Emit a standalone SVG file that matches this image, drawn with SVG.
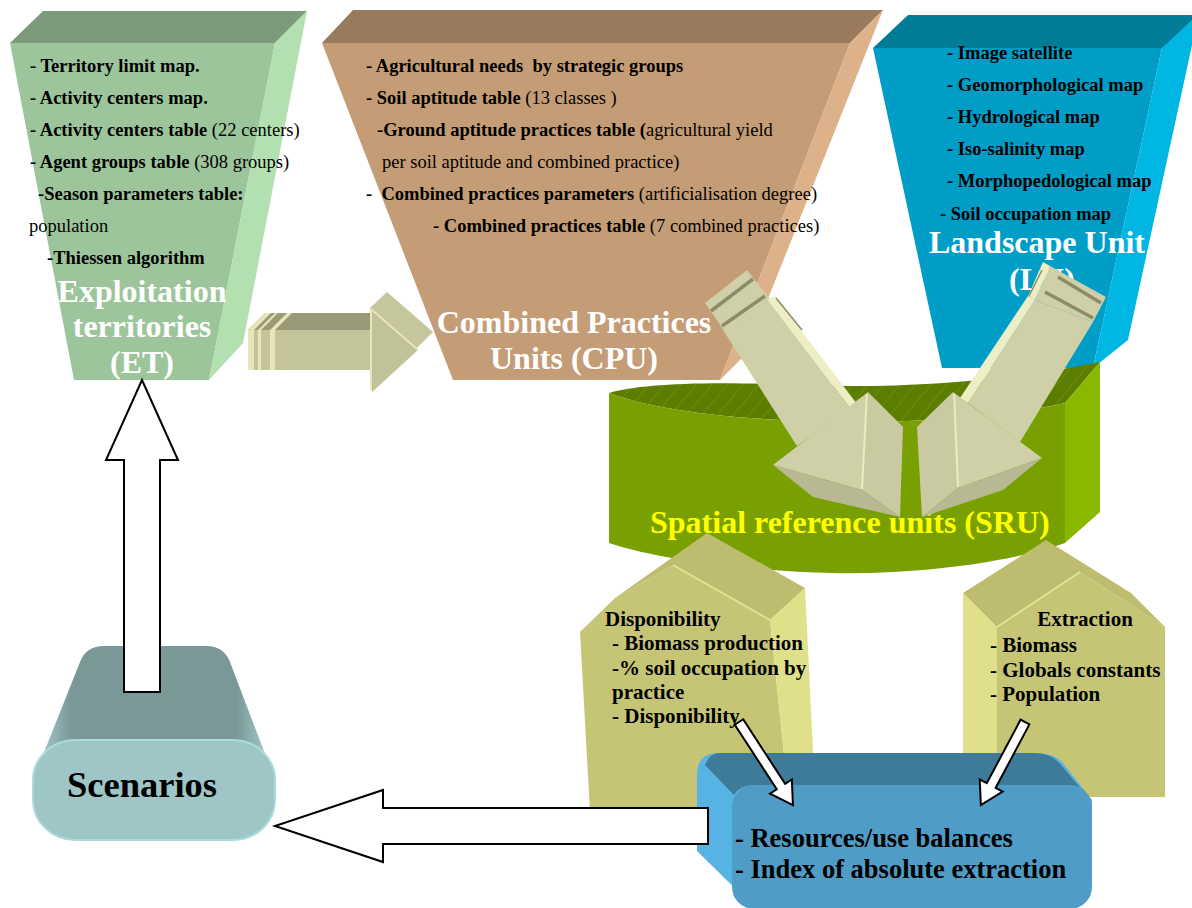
<svg xmlns="http://www.w3.org/2000/svg" width="1192" height="908" viewBox="0 0 1192 908">
<defs>
<style>
.t{font-family:'Liberation Serif','Times New Roman',serif;font-weight:bold;font-size:18.5px;fill:#000}
.n{font-weight:normal}
.ttl{font-size:32px;fill:#fff;text-anchor:middle}
.b21{font-size:21px}
.wa{fill:#fff;stroke:#000;stroke-width:2;stroke-linejoin:miter}
.bk{fill:#d0d0a8}
.bkhi{fill:#eeeec4}
.bkside{fill:#c9c9a2}
.bklow{fill:#b8b892}
.bkline{stroke:#8c8c6c;stroke-width:3.5;fill:none}
</style>
<pattern id="hatch" width="12" height="12" patternUnits="userSpaceOnUse" patternTransform="rotate(40)">
<rect width="12" height="12" fill="#5c7e00"/>
<line x1="0" y1="0" x2="0" y2="12" stroke="#a8c060" stroke-width="0.7" stroke-opacity="0.55"/>
</pattern>
<linearGradient id="scnBack" x1="0" y1="0" x2="1" y2="0">
<stop offset="0" stop-color="#a9d5d5"/>
<stop offset="0.16" stop-color="#7a9898"/>
<stop offset="0.84" stop-color="#7a9898"/>
<stop offset="1" stop-color="#a9d5d5"/>
</linearGradient>
</defs>
<rect width="1192" height="908" fill="#fff"/>

<!-- Exploitation territories funnel -->
<g id="et">
<polygon points="10,43 43,11 307,11 275,43" fill="#7b9b7b"/>
<polygon points="10,43 275,43 209,380 74,380" fill="#9dc59b"/>
<polygon points="275,43 307,11 243,343 209,380" fill="#b2e0b0"/>
<text class="t" x="30" y="72">- Territory limit map.</text>
<text class="t" x="30" y="104">- Activity centers map.</text>
<text class="t" x="30" y="136">- Activity centers table <tspan class="n">(22 centers)</tspan></text>
<text class="t" x="30" y="168">- Agent groups table <tspan class="n">(308 groups)</tspan></text>
<text class="t" x="38" y="200">-Season parameters table:</text>
<text class="t n" x="29" y="232">population</text>
<text class="t" x="47" y="264">-Thiessen algorithm</text>
<text class="t ttl" x="142" y="302">Exploitation</text>
<text class="t ttl" x="142" y="337">territories</text>
<text class="t ttl" x="142" y="373">(ET)</text>
</g>

<!-- Combined practices units funnel -->
<g id="cpu">
<polygon points="322,43 353,10 883,10 850,43" fill="#9a7a5c"/>
<polygon points="322,43 850,43 720,380 453,380" fill="#c49c76"/>
<polygon points="850,43 883,10 746,354 720,380" fill="#ddb189"/>
<text class="t" x="366" y="72" xml:space="preserve">- Agricultural needs  by strategic groups</text>
<text class="t" x="366" y="104">- Soil aptitude table <tspan class="n">(13 classes )</tspan></text>
<text class="t" x="377" y="136">-Ground aptitude practices table (<tspan class="n">agricultural yield</tspan></text>
<text class="t n" x="382" y="168">per soil aptitude and combined practice)</text>
<text class="t" x="366" y="200" xml:space="preserve">-  Combined practices parameters <tspan class="n">(artificialisation degree)</tspan></text>
<text class="t" x="433" y="232">- Combined practices table <tspan class="n">(7 combined practices)</tspan></text>
<text class="t ttl" x="574" y="333">Combined Practices</text>
<text class="t ttl" x="574" y="369">Units (CPU)</text>
</g>

<!-- Landscape unit funnel -->
<g id="lu">
<polygon points="873,48 908,15 1192,15 1192,30 1162,48" fill="#007c96"/>
<polygon points="873,48 1162,48 1093,368 942,368" fill="#009ec7"/>
<polygon points="1162,48 1192,20 1192,45 1128,340 1093,368" fill="#00b6e2"/>
<text class="t" x="947" y="59">- Image satellite</text>
<text class="t" x="947" y="91">- Geomorphological map</text>
<text class="t" x="947" y="123">- Hydrological map</text>
<text class="t" x="947" y="155">- Iso-salinity map</text>
<text class="t" x="947" y="187">- Morphopedological map</text>
<text class="t" x="940" y="220">- Soil occupation map</text>
<text class="t ttl" x="1037" y="253">Landscape Unit</text>
<text class="t ttl" x="1042" y="290">(LU)</text>
</g>

<!-- Spatial reference units ribbon -->
<g id="sru">
<path d="M609,393 C640,384 700,381 800,385 C900,389 1000,382 1100,362 L1065,403 C1000,418 900,425 800,421 C700,417 640,405 609,393 Z" fill="url(#hatch)"/>
<path d="M609,393 C640,405 700,417 800,421 C900,425 1000,418 1065,403 L1065,543 C1000,566 900,575 833,573 C750,571 660,560 609,543 Z" fill="#78a000"/>
<polygon points="1065,403 1100,362 1100,512 1065,543" fill="#89b800"/>
<text class="t" x="650" y="533" style="font-size:32px;fill:#ffff00">Spatial reference units (SRU)</text>
</g>

<!-- Disponibility block -->
<g id="disponibility">
<polygon points="580,632 615,598 673,565 770,620 790,812 590,812" fill="#c6c576"/>
<polygon points="615,598 707,533 805,588 770,620 673,565" fill="#bdbc6f"/>
<polygon points="770,620 805,588 816,812 790,812" fill="#e1e08a"/>
<line x1="673" y1="565" x2="770" y2="620" stroke="#e2e194" stroke-width="2"/>
<text class="t b21" x="605" y="626">Disponibility</text>
<text class="t b21" x="612" y="650">- Biomass production</text>
<text class="t b21" x="612" y="675">-% soil occupation by</text>
<text class="t b21" x="612" y="699">practice</text>
<text class="t b21" x="612" y="723">- Disponibility</text>
</g>

<!-- Extraction block -->
<g id="extraction">
<polygon points="963,593 997,627 997,760 963,760" fill="#e1e08a"/>
<polygon points="997,627 1080,572 1165,627 1165,797 997,797" fill="#c6c576"/>
<polygon points="963,593 1046,540 1131,593 1165,627 1080,572 997,627" fill="#bdbc6f"/>
<line x1="997" y1="627" x2="1080" y2="572" stroke="#e2e194" stroke-width="2"/>
<text class="t b21" x="1085" y="626" text-anchor="middle">Extraction</text>
<text class="t b21" x="990" y="652">- Biomass</text>
<text class="t b21" x="990" y="677">- Globals constants</text>
<text class="t b21" x="990" y="701">- Population</text>
</g>

<!-- Resources/use balance box -->
<g id="balance">
<path d="M697,775 Q697,753 719,753 L1035,753 Q1057,753 1066,767 L1092,800 L1092,885 L754,907 L697,851 Z" fill="#57b3e3"/>
<path d="M719,753 L1035,753 Q1052,753 1062,766 L1088,797 Q1082,785 1070,785 L754,785 Q740,785 734,795 L705,765 Q710,753 719,753 Z" fill="#3e7b99"/>
<rect x="732" y="785" width="360" height="124" rx="22" ry="22" fill="#4f9cc6"/>
<text class="t" x="735" y="847" style="font-size:26.5px">- Resources/use balances</text>
<text class="t" x="735" y="878" style="font-size:26.5px">- Index of absolute extraction</text>
</g>

<!-- Scenarios drum -->
<g id="scenarios">
<path d="M33,780 L80,662 Q86,646 104,646 L206,646 Q224,646 230,662 L275,780 Z" fill="url(#scnBack)"/>
<rect x="33" y="740" width="242" height="100" rx="42" ry="40" fill="#9fc6c6" stroke="#addada" stroke-width="2"/>
<text class="t" x="67" y="797" style="font-size:36.5px">Scenarios</text>
</g>

<!-- Connectors -->
<g id="connectors">
<!-- ET to CPU block arrow -->
<g id="arrow-et-cpu">
<polygon points="248,330 265,313 292,313 370,313 370,330" fill="#9a9a78"/>
<rect x="248" y="330" width="122" height="40" fill="#c4c49b"/>
<rect x="248" y="330" width="6" height="40" fill="#e6e6b8"/>
<rect x="258" y="330" width="3" height="40" fill="#e6e6b8"/>
<rect x="270" y="330" width="5" height="40" fill="#e6e6b8"/>
<polygon points="248,330 265,313 271,313 254,330" fill="#e6e6b8"/>
<polygon points="258,330 275,313 278,313 261,330" fill="#e6e6b8"/>
<polygon points="270,330 287,313 292,313 275,330" fill="#e6e6b8"/>
<polygon points="370,308 387,292 433,332 372,392" fill="#c6c69c"/>
<polygon points="370,308 418,350 372,392" fill="#c2c298"/>
<line x1="371" y1="309" x2="418" y2="350" stroke="#e6e6b8" stroke-width="2"/>
<line x1="371" y1="309" x2="371" y2="390" stroke="#e6e6b8" stroke-width="2"/>
</g>
<!-- CPU to SRU block arrow -->
<g id="arrow-cpu-sru">
<polygon class="bk" points="705,303 747,270 770,299 725,332"/>
<line class="bkline" x1="711" y1="311" x2="753" y2="279"/>
<line class="bkline" x1="722" y1="326" x2="765" y2="296"/>
<polygon class="bk" points="723,330 768,300 850,408 797,446"/>
<polygon class="bkhi" points="768,300 775,296 857,404 850,408"/>
<line x1="776" y1="298" x2="802" y2="330" stroke="#8c8c6c" stroke-width="1.5"/>
<polygon class="bk" points="773,465 868,392 862,490"/>
<polygon class="bkside" points="868,392 903,427 900,517 862,490"/>
<polygon class="bklow" points="773,465 862,490 900,517 813,497"/>
<line x1="867" y1="394" x2="862" y2="489" stroke="#ececc0" stroke-width="2"/>
</g>
<!-- LU to SRU block arrow -->
<g id="arrow-lu-sru">
<polygon class="bk" points="1050,266 1106,297 1093,322 1035,300"/>
<line class="bkline" x1="1058" y1="277" x2="1101" y2="303"/>
<line class="bkline" x1="1045" y1="292" x2="1093" y2="318"/>
<polygon class="bkhi" points="1043,262 1050,266 1035,300 1028,296"/>
<line x1="1042" y1="270" x2="1013" y2="328" stroke="#8c8c6c" stroke-width="1.5"/>
<polygon class="bk" points="1035,300 1093,322 1020,442 968,403"/>
<polygon class="bkhi" points="1028,296 1035,300 968,403 960,398"/>
<polygon class="bk" points="953,392 1042,458 958,488"/>
<polygon class="bkside" points="953,392 958,488 922,517 917,427"/>
<polygon class="bklow" points="1042,458 1003,490 922,517 958,488"/>
<line x1="954" y1="394" x2="958" y2="487" stroke="#ececc0" stroke-width="2"/>
</g>
<!-- Scenarios to ET -->
<polygon class="wa" points="124,692 124,460 106,460 142,380 178,460 160,460 160,692"/>
<!-- Balance to Scenarios -->
<polygon class="wa" points="708,808 383,808 383,790 275,826 383,862 383,844 708,844"/>
<!-- Disponibility to balance -->
<path class="wa" transform="translate(739,722) rotate(57)" d="M0,-5 L77,-5 L77,-13 L99,0 L77,13 L77,5 L0,5 Z"/>
<!-- Extraction to balance -->
<path class="wa" transform="translate(1025,722) rotate(118)" d="M0,-5 L72,-5 L72,-13 L94,0 L72,13 L72,5 L0,5 Z"/>
</g>
</svg>
